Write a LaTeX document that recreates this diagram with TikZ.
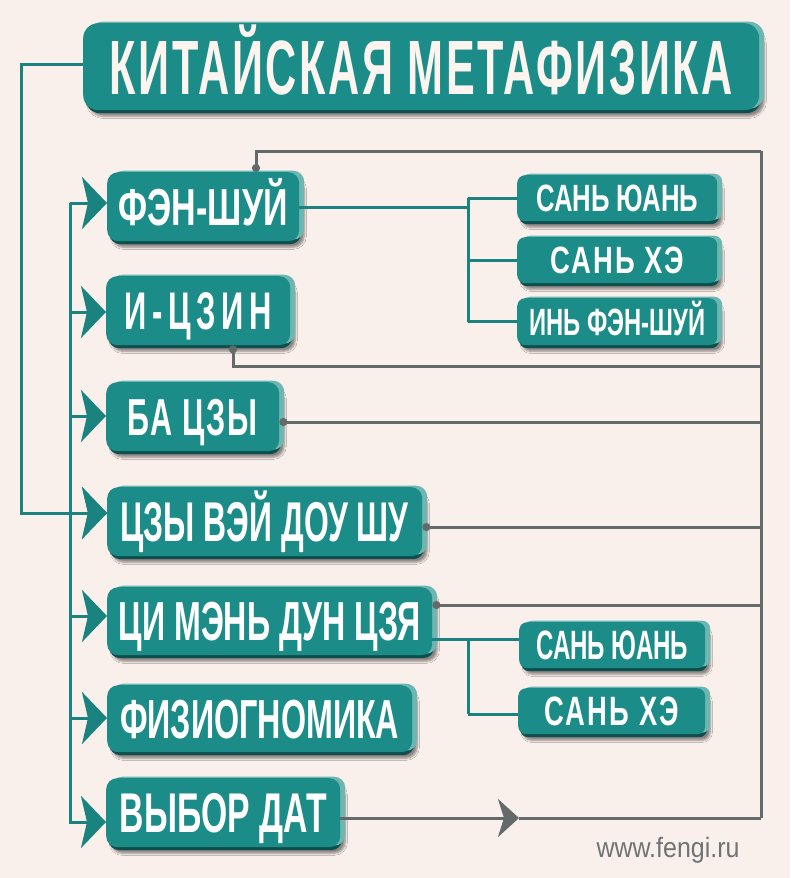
\documentclass[tikz,border=0pt]{standalone}
\usepackage{fontspec}
\setmainfont{Liberation Sans}
\usetikzlibrary{arrows.meta,shadows,shadows.blur}
\definecolor{bgc}{RGB}{250,240,235}
\definecolor{tealmain}{RGB}{28,140,136}
\definecolor{tealdark}{RGB}{14,78,76}
\definecolor{teallight}{RGB}{110,182,177}
\definecolor{teallinec}{RGB}{26,130,127}
\definecolor{grayc}{RGB}{100,106,106}
\definecolor{urlc}{RGB}{112,115,115}
\definecolor{creamc}{RGB}{252,244,238}
\newcommand\bt[3]{\fontsize{#1}{#1}\selectfont\bfseries\resizebox{#2pt}{\height}{#3}}
\newcommand\bts[4]{\fontsize{#1}{#1}\selectfont\bfseries\addfontfeatures{LetterSpace=#3}\resizebox{#2pt}{\height}{#4}}
\newcommand\rt[3]{\fontsize{#1}{#1}\selectfont\resizebox{#2pt}{\height}{#3}}
\begin{document}
\begin{tikzpicture}[x=1pt,y=-1pt,
  box/.style={fill=tealmain, rounded corners=11pt, inner sep=0pt, anchor=north west,
    text=white, text depth=0pt,
    blur shadow={shadow xshift=5pt, shadow yshift=-6pt, shadow blur steps=6, shadow opacity=45},
    general shadow={fill=tealdark, shadow xshift=2pt, shadow yshift=-3pt},
    general shadow={fill=teallight, shadow yshift=1.5pt}},
  tline/.style={draw=teallinec, line width=3pt},
  arr/.style={tline, -{Stealth[length=25pt,width=52pt,inset=6pt]}},
  gline/.style={draw=grayc, line width=3pt},
  dline/.style={gline, {Circle[length=8pt,width=8pt]}-},
  garr/.style={gline, -{Stealth[length=21pt,width=38pt,inset=6pt]}}
]
\useasboundingbox (0,0) rectangle (790,878);
\fill[bgc] (0,0) rectangle (790,878);

% boxes
\node[box, text=creamc, rounded corners=15pt, minimum width=676pt, minimum height=87pt, text height=55pt] (title) at (83,23) {\bts{77}{623}{6}{КИТАЙСКАЯ МЕТАФИЗИКА}};
\node[box, minimum width=192pt, minimum height=69pt, text height=37pt] (fs) at (107,172) {\bt{52}{169}{ФЭН-ШУЙ}};
\node[box, minimum width=184pt, minimum height=69pt, text height=38pt] (ic) at (106,276) {\bts{53}{147}{18}{И-ЦЗИН}};
\node[box, minimum width=173pt, minimum height=69pt, text height=37pt] (bc) at (106,382) {\bts{52}{130}{6}{БА ЦЗЫ}};
\node[box, minimum width=315pt, minimum height=69pt, text height=40pt] (cz) at (107,487) {\bt{56}{288}{ЦЗЫ ВЭЙ ДОУ ШУ}};
\node[box, minimum width=325pt, minimum height=68pt, text height=39pt] (cm) at (107,587) {\bt{55}{302}{ЦИ МЭНЬ ДУН ЦЗЯ}};
\node[box, minimum width=305pt, minimum height=67pt, text height=39pt] (fz) at (107,685) {\bt{55}{279}{ФИЗИОГНОМИКА}};
\node[box, minimum width=234pt, minimum height=69pt, text height=40pt] (vd) at (106,778) {\bt{56}{207}{ВЫБОР ДАТ}};
\node[box, rounded corners=8pt, minimum width=200pt, minimum height=46pt, text height=27pt] (s1) at (517,175) {\bt{38}{162}{САНЬ ЮАНЬ}};
\node[box, rounded corners=8pt, minimum width=200pt, minimum height=46pt, text height=27pt] (s2) at (517,237) {\bts{38}{134}{8}{САНЬ ХЭ}};
\node[box, rounded corners=8pt, minimum width=200pt, minimum height=47pt, text height=27pt] (s3) at (517,298) {\bt{38}{176}{ИНЬ ФЭН-ШУЙ}};
\node[box, rounded corners=8pt, minimum width=186pt, minimum height=46pt, text height=29pt] (s4) at (519,622) {\bt{41}{152}{САНЬ ЮАНЬ}};
\node[box, rounded corners=8pt, minimum width=187pt, minimum height=46pt, text height=29pt] (s5) at (518,688) {\bts{41}{134}{8}{САНЬ ХЭ}};
\node[text=urlc, anchor=base, inner sep=0pt] (url) at (668,857) {\rt{28}{143}{www.fengi.ru}};

% teal connectors on the left
\coordinate (tl) at (21,64);
\coordinate (bl) at (21,513);
\coordinate (vt) at (70,203);
\coordinate (vb) at (70,822);
\draw[arr] (title.west |- tl) -- (tl) -- (bl) -- (cz.west |- bl);
\draw[arr] (vt) -- (vb) -- (vd.west |- vb);
\draw[arr] (vt) -- (fs.west |- vt);
\draw[arr] (vt |- 0,312) -- (ic.west |- 0,312);
\draw[arr] (vt |- 0,416) -- (bc.west |- 0,416);
\draw[arr] (vt |- 0,513) -- (cz.west |- 0,513);
\draw[arr] (vt |- 0,616) -- (cm.west |- 0,616);
\draw[arr] (vt |- 0,718) -- (fz.west |- 0,718);

% teal sub-branches
\coordinate (j1) at (468,207);
\draw[tline] (fs.east |- j1) -- (j1);
\draw[tline] (s1.west -| j1) -- (s3.west -| j1);
\draw[tline] (s1.west -| j1) -- (s1.west);
\draw[tline] (s2.west -| j1) -- (s2.west);
\draw[tline] (s3.west -| j1) -- (s3.west);
\coordinate (j2) at (468,639);
\coordinate (j3) at (468,714);
\draw[tline] (cm.east |- j2) -- (j2) -- (j3);
\draw[tline] (j2) -- (s4.west |- j2);
\draw[tline] (j3) -- (s5.west |- j3);

% gray connectors on the right
\coordinate (rt) at (761,151);
\coordinate (rb) at (761,818);
\coordinate (ga) at (519,818);
\draw[gline] (rt) -- (rb);
\draw[dline] (fs.north -| 256,0) -- (256,151) -- (rt);
\draw[dline] (ic.south -| 233,0) -- (233,366) -- (rt |- 0,366);
\draw[dline] (bc.east |- 0,422) -- (rt |- 0,422);
\draw[dline] (cz.east |- 0,527) -- (rt |- 0,527);
\draw[dline] (cm.east |- 0,605) -- (rt |- 0,605);
\draw[garr] (vd.east |- ga) -- (ga);
\draw[gline] (ga) -- (rb);
\end{tikzpicture}
\end{document}
